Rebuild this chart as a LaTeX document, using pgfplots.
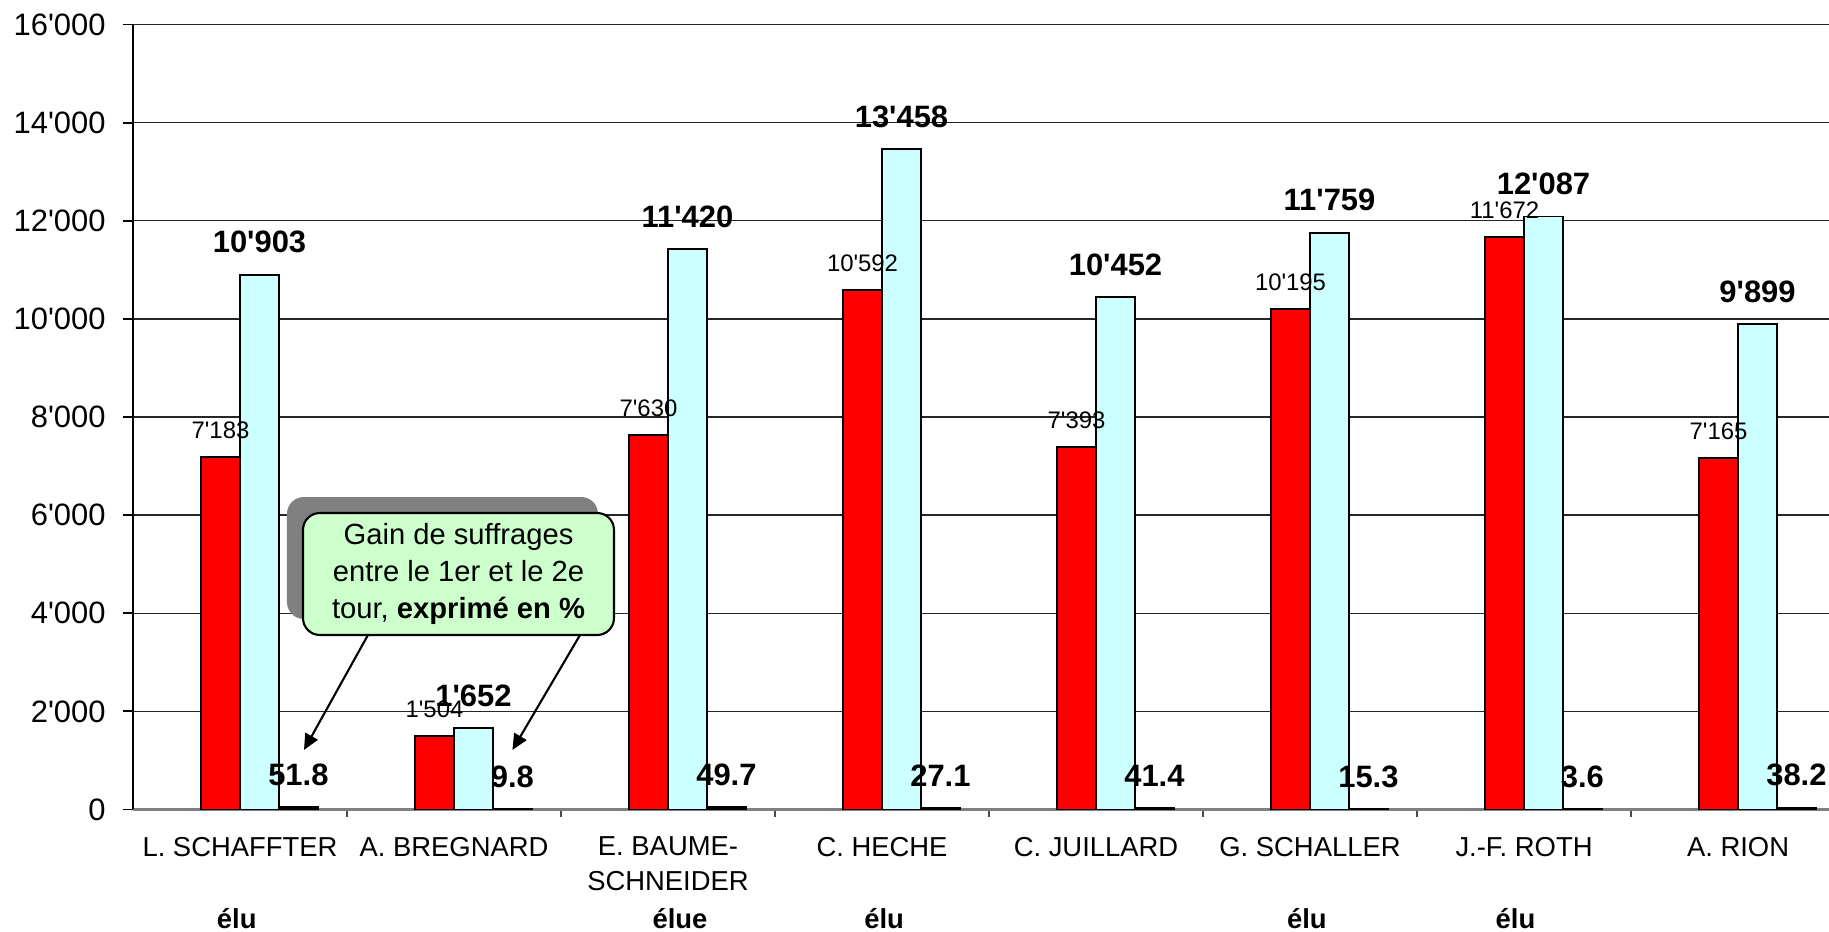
\documentclass[border=0pt]{standalone}
\usepackage{pgfplots}
\usepackage{pgfplotstable}
\pgfplotsset{compat=1.18}
\usetikzlibrary{arrows.meta}
\usepackage{fontspec}
\setmainfont{Liberation Sans}
\definecolor{cyanbar}{RGB}{204,255,255}
\definecolor{boxgreen}{RGB}{204,255,204}
\definecolor{shadowgray}{RGB}{128,128,128}
\tikzset{elu/.style={font=\fontsize{7.8}{9}\selectfont\bfseries, anchor=center, yshift=-10.95mm}}

\pgfplotstableread{
x red cyan pct
0 7183 10903 51.8
1 1504 1652 9.8
2 7630 11420 49.7
3 10592 13458 27.1
4 7393 10452 41.4
5 10195 11759 15.3
6 11672 12087 3.6
7 7165 9899 38.2
}\data

\begin{document}
\begin{tikzpicture}
\path[use as bounding box] (-1.33cm,-1.225cm) rectangle (16.96cm,8.095cm);
\begin{axis}[
  at={(0,0)}, anchor=south west,
  width=16.96cm, height=7.85cm, scale only axis,
  xmin=-0.5, xmax=7.425, ymin=0, ymax=16000,
  clip=false,
  axis lines*=left,
  x axis line style={shadowgray, line width=1pt},
  y axis line style={black, line width=0.6pt},
  ytick={0,2000,...,16000},
  scaled y ticks=false,
  ymajorgrids,
  grid style={black!85, line width=0.4pt},
  tick align=outside,
  ytick style={black, line width=0.5pt, /pgfplots/major tick length=2.85pt},
  xtick={0,...,7},
  xticklabels={L. SCHAFFTER, A. BREGNARD, {E. BAUME-\\SCHNEIDER}, C. HECHE, C. JUILLARD, G. SCHALLER, J.-F. ROTH, A. RION},
  minor x tick num=1,
  xtick style={black!70, line width=0.5pt, /pgfplots/major tick length=0pt, /pgfplots/minor tick length=2pt},
  xticklabel style={align=center, font=\fontsize{7.8}{9.8}\selectfont, yshift=0mm},
  yticklabel style={font=\fontsize{8.8}{10}\selectfont},
  /pgf/number format/.cd, 1000 sep={\textquotesingle}, assume math mode=true,
  /pgfplots/.cd,
]
\addplot[ybar, bar width=0.182, bar shift=-0.091, fill=red, draw=black, line width=0.55pt,
  nodes near coords, point meta=y,
  every node near coord/.append style={font=\fontsize{6.8}{8}\selectfont, anchor=south, inner sep=0pt, yshift=4.9pt, xshift=-1.95mm}]
  table[x=x, y=red] {\data};
\addplot[ybar, bar width=0.182, bar shift=0.091, fill=cyanbar, draw=black, line width=0.55pt,
  nodes near coords, point meta=y,
  every node near coord/.append style={font=\fontsize{8.8}{10}\selectfont\bfseries, anchor=south, inner sep=0pt, yshift=5.8pt, xshift=1.95mm}]
  table[x=x, y=cyan] {\data};
\addplot[ybar, bar width=0.182, bar shift=0.273, fill=black, draw=black, line width=0.55pt,
  nodes near coords, point meta=y,
  every node near coord/.append style={font=\fontsize{8.8}{10}\selectfont\bfseries, anchor=south, inner sep=0pt, yshift=5.8pt, xshift=5.84mm}]
  table[x=x, y=pct] {\data};

% callout
\node[fill=shadowgray, rounded corners=4.8pt, minimum width=3.11cm, minimum height=1.22cm, inner sep=0pt,
  xshift=-1.6mm, yshift=1.6mm] at (axis cs:1.021,4800) {};
\draw[line width=0.6pt, -{Triangle[length=4.5pt,width=4pt]}] (axis cs:0.598,3557) -- (axis cs:0.299,1213);
\draw[line width=0.6pt, -{Triangle[length=4.5pt,width=4pt]}] (axis cs:1.589,3557) -- (axis cs:1.273,1213);
\node[draw=black, line width=0.6pt, fill=boxgreen, rounded corners=4.8pt, minimum width=3.11cm, minimum height=1.22cm,
  inner sep=0pt, align=center, font=\fontsize{8.3}{10.6}\selectfont] at (axis cs:1.021,4800)
  {Gain de suffrages\\entre le 1er et le 2e\\tour, \textbf{exprimé en \%}};

% elected labels
\node[elu] at (axis cs:-0.015,0) {élu};
\node[elu] at (axis cs:2.056,0) {élue};
\node[elu] at (axis cs:3.01,0) {élu};
\node[elu] at (axis cs:4.985,0) {élu};
\node[elu] at (axis cs:5.96,0) {élu};
\end{axis}
\end{tikzpicture}
\end{document}
